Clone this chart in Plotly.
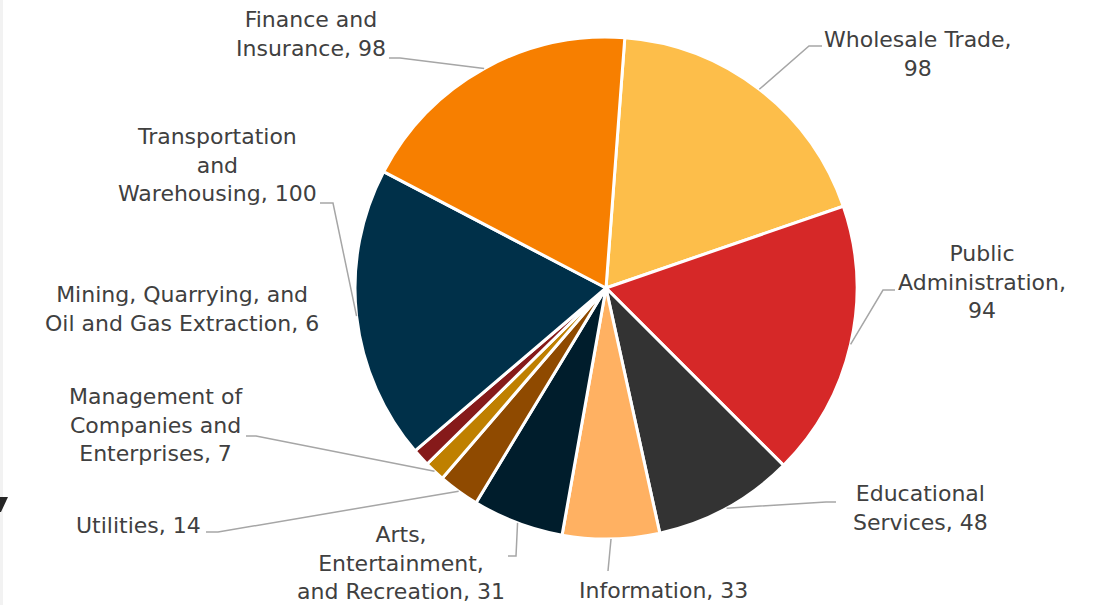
import math
import plotly.graph_objects as go

W, H = 1106, 605

# data
industries = ["Wholesale Trade", "Public Administration", "Educational Services",
              "Information", "Arts, Entertainment, and Recreation", "Utilities",
              "Management of Companies and Enterprises",
              "Mining, Quarrying, and Oil and Gas Extraction",
              "Transportation and Warehousing", "Finance and Insurance"]
counts = [98, 94, 48, 33, 31, 14, 7, 6, 100, 98]
label_prefix = ["Wholesale Trade,<br>", "Public<br>Administration,<br>", "Educational<br>Services, ",
                "Information, ", "Arts,<br>Entertainment,<br>and Recreation, ", "Utilities, ",
                "Management of<br>Companies and<br>Enterprises, ",
                "Mining, Quarrying, and<br>Oil and Gas Extraction, ",
                "Transportation<br>and<br>Warehousing, ", "Finance and<br>Insurance, "]
colors = ["#FDBE4A", "#D62828", "#333333", "#FFB162", "#001D2C",
          "#8F4A00", "#BF8000", "#861A1A", "#003049", "#F77F00"]

# layout (pixels)
cx, cy, r = 606, 288, 251
rotation = 4.3
# label anchor x, y and which side of the text box sits at x
label_pos = [(822, 54, "left"), (896, 282, "left"), (851, 508, "left"), (663, 590, "center"),
             (507, 563, "right"), (203, 525, "right"), (245, 425, "right"), (321, 309, "right"),
             (319, 165, "right"), (388, 34, "right")]
# (label side x, elbow x, y) of each leader line, None = no line
leaders = [(822, 809, 46), (895, 883, 290), (836, 826, 502), (608, 608, 571), (508, 516, 556),
           (206, 218, 532), (246, 256, 436), None, (320, 333, 203), (389, 400, 58)]


def px(x, y):
    return x / W, 1 - y / H


fig = go.Figure(go.Pie(
    labels=industries, values=counts, sort=False, direction="clockwise",
    rotation=rotation, textinfo="none", hoverinfo="label+value",
    marker=dict(colors=colors, line=dict(color="white", width=3)),
    domain=dict(x=[(cx - r) / W, (cx + r) / W], y=[1 - (cy + r) / H, 1 - (cy - r) / H]),
    showlegend=False,
))

total = sum(counts)
angle = rotation
shapes = []
annotations = []
for i, c in enumerate(counts):
    span = c / total * 360
    mid = math.radians(angle + span / 2)
    angle += span
    ex, ey = cx + r * math.sin(mid), cy - r * math.cos(mid)
    lx, ly, side = label_pos[i]
    x, y = px(lx, ly)
    annotations.append(dict(x=x, y=y, xref="paper", yref="paper", text=label_prefix[i] + str(c),
                            showarrow=False, xanchor=side, yanchor="middle", align="center",
                            font=dict(size=22, color="#404040", family="DejaVu Sans")))
    if leaders[i]:
        x0, x1, yl = leaders[i]
        pts = [px(x0, yl), px(x1, yl), px(ex, ey)]
        path = "M " + " L ".join(f"{a:.5f},{b:.5f}" for a, b in pts)
        shapes.append(dict(type="path", path=path, xref="paper", yref="paper",
                           line=dict(color="#A6A6A6", width=1.5)))

# left edge strip and cut-off marker
shapes.append(dict(type="rect", xref="paper", yref="paper", x0=0, x1=3 / W, y0=0, y1=1,
                   fillcolor="#F2F2F2", line=dict(width=0), layer="below"))
tri = [px(0, 497), px(8, 497), px(1, 512), px(0, 512)]
shapes.append(dict(type="path", xref="paper", yref="paper",
                   path="M " + " L ".join(f"{a:.5f},{b:.5f}" for a, b in tri) + " Z",
                   fillcolor="#262626", line=dict(width=0)))

fig.update_layout(width=W, height=H, margin=dict(l=0, r=0, t=0, b=0),
                  paper_bgcolor="white", plot_bgcolor="white",
                  shapes=shapes, annotations=annotations)

fig.write_html("out.html", config={"displayModeBar": False},
               post_script="document.body.style.margin='0';")
